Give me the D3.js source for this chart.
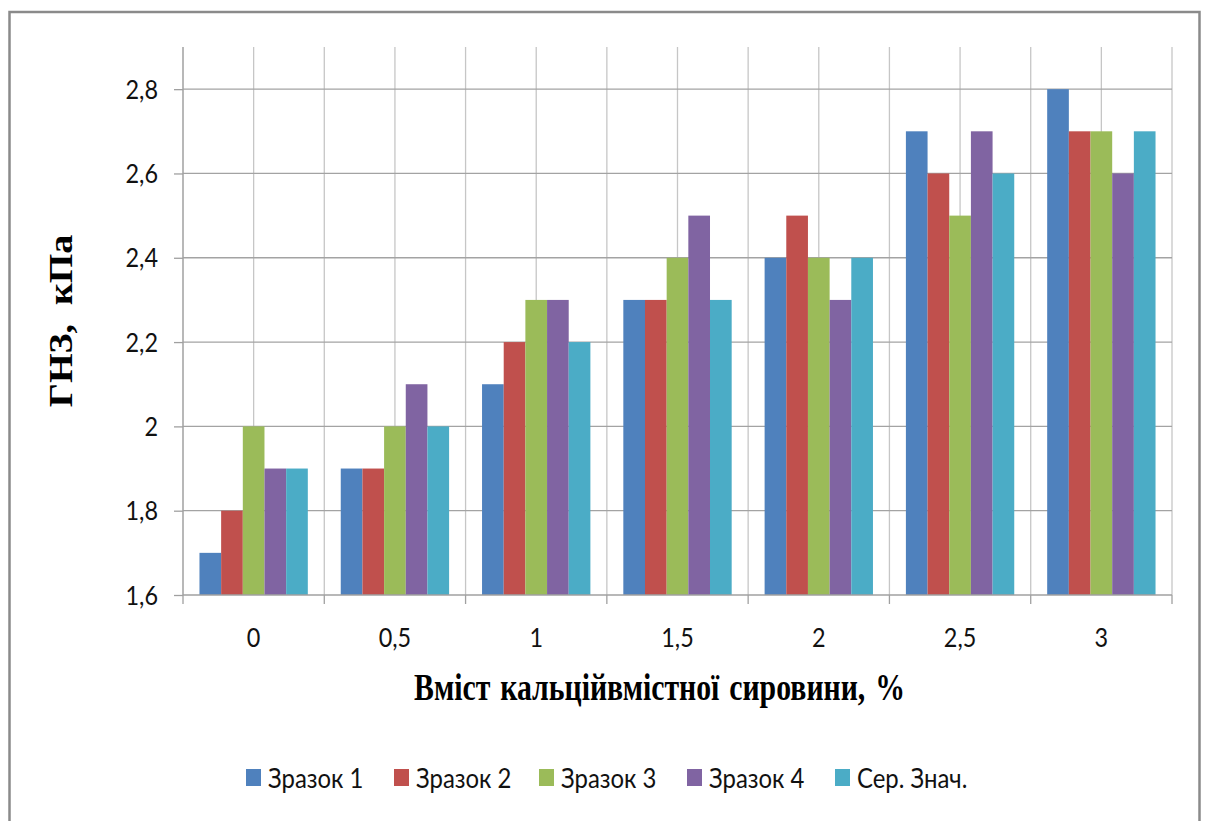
<!DOCTYPE html>
<html>
<head>
<meta charset="utf-8">
<script src="https://cdn.jsdelivr.net/npm/d3@7"></script>
<style>
  html, body { margin: 0; padding: 0; background: #fff; }
  svg { display: block; }
</style>
</head>
<body>
<svg id="chart" width="1205" height="821"></svg>
<script>
// Calcium-containing additive content, %
const categories = ["0", "0,5", "1", "1,5", "2", "2,5", "3"];
const seriesNames = ["Зразок 1", "Зразок 2", "Зразок 3", "Зразок 4", "Сер. Знач."];
const sample1 = [1.7, 1.9, 2.1, 2.3, 2.4, 2.7, 2.8];
const sample2 = [1.8, 1.9, 2.2, 2.3, 2.5, 2.6, 2.7];
const sample3 = [2.0, 2.0, 2.3, 2.4, 2.4, 2.5, 2.7];
const sample4 = [1.9, 2.1, 2.3, 2.5, 2.3, 2.7, 2.6];
const average = [1.9, 2.0, 2.2, 2.3, 2.4, 2.6, 2.7];
const yTicks = [1.6, 1.8, 2.0, 2.2, 2.4, 2.6, 2.8];
const colors = ["#4F81BD", "#C0504D", "#9BBB59", "#8064A2", "#4BACC6"];

const seriesValues = [sample1, sample2, sample3, sample4, average];
const rows = categories.map((c, i) => ({
  cat: c,
  vals: seriesNames.map((s, j) => ({ series: s, idx: j, value: seriesValues[j][i] }))
}));

const svg = d3.select("#chart");
const plot = { left: 183, right: 1172, top: 47, bottom: 595 };

const x0 = d3.scaleBand().domain(categories).range([plot.left, plot.right]).paddingInner(0).paddingOuter(0);
const x1 = d3.scaleBand().domain(seriesNames).range([0, x0.bandwidth()]).paddingInner(0).paddingOuter(0.76);
const y = d3.scaleLinear().domain([1.6, 2.9]).range([plot.bottom, plot.top]);

const sansFont = "Lato, 'Open Sans', sans-serif";
const serifFont = "'Liberation Serif', 'DejaVu Serif', serif";

// outer frame
svg.append("rect")
  .attr("x", 9.5).attr("y", 12).attr("width", 1190).attr("height", 830)
  .attr("fill", "none").attr("stroke", "#8a8a8a").attr("stroke-width", 2.5);

// vertical gridlines at every half category
const halfSteps = d3.range(1, categories.length * 2 + 1).map(k => plot.left + k * x0.bandwidth() / 2);
svg.append("g").selectAll("line").data(halfSteps).join("line")
  .attr("x1", d => d).attr("x2", d => d)
  .attr("y1", plot.top).attr("y2", plot.bottom)
  .attr("stroke", "#c6c6c6").attr("stroke-width", 1.3);

// horizontal gridlines
svg.append("g").selectAll("line").data(yTicks.slice(1)).join("line")
  .attr("x1", plot.left).attr("x2", plot.right)
  .attr("y1", d => y(d)).attr("y2", d => y(d))
  .attr("stroke", "#a3a3a3").attr("stroke-width", 1.3);

// bars
svg.append("g").selectAll("g").data(rows).join("g")
  .attr("transform", d => `translate(${x0(d.cat)},0)`)
  .selectAll("rect").data(d => d.vals).join("rect")
  .attr("x", d => x1(d.series))
  .attr("width", x1.bandwidth())
  .attr("y", d => y(d.value))
  .attr("height", d => y(1.6) - y(d.value))
  .attr("fill", d => colors[d.idx]);

// y axis
const yAxis = d3.axisLeft(y).tickValues(yTicks).tickSize(9).tickPadding(16)
  .tickFormat(d => d3.format(".1f")(d).replace(/\.0$/, "").replace(".", ","));
const gy = svg.append("g").attr("transform", `translate(${plot.left},0)`).call(yAxis);
gy.select(".domain").attr("stroke", "#a0a0a0").attr("stroke-width", 1.5)
  .attr("d", `M0,${plot.top}V${plot.bottom}`);
gy.selectAll(".tick line").attr("stroke", "#a0a0a0").attr("stroke-width", 1.3);
gy.selectAll(".tick text")
  .attr("font-family", sansFont).attr("font-size", 26).attr("fill", "#111")
  .attr("dy", "0.35em")
  .each(function () {
    const t = d3.select(this);
    const xx = +t.attr("x");
    t.attr("x", 0).attr("transform", `translate(${xx},0) scale(0.9,1)`);
  });

// x axis
const xAxis = d3.axisBottom(x0).tickSize(0).tickPadding(0);
const gx = svg.append("g").attr("transform", `translate(0,${plot.bottom})`).call(xAxis);
gx.select(".domain").attr("stroke", "#a0a0a0").attr("stroke-width", 1.5)
  .attr("d", `M${plot.left},0H${plot.right}`);
gx.selectAll(".tick text")
  .attr("font-family", sansFont).attr("font-size", 26).attr("fill", "#111")
  .attr("y", 0).attr("dy", 0)
  .attr("transform", "translate(0,52) scale(0.9,1)");
// boundary tick marks between categories
const bounds = d3.range(0, categories.length + 1).map(k => plot.left + k * x0.bandwidth());
gx.append("g").selectAll("line").data(bounds).join("line")
  .attr("x1", d => d).attr("x2", d => d).attr("y1", 0).attr("y2", 9)
  .attr("stroke", "#a0a0a0").attr("stroke-width", 1.3);

// axis titles
svg.append("text")
  .attr("transform", `translate(${(plot.left + plot.right) / 2 - 18},700) scale(0.805,1)`)
  .attr("text-anchor", "middle")
  .attr("font-family", serifFont).attr("font-weight", "bold").attr("font-size", 37)
  .attr("fill", "#000")
  .attr("word-spacing", 3)
  .text("Вміст кальційвмістної сировини, %");

svg.append("text")
  .attr("transform", "translate(72,321) rotate(-90) scale(1.15,1)")
  .attr("text-anchor", "middle")
  .attr("font-family", serifFont).attr("font-weight", "bold").attr("font-size", 33)
  .attr("fill", "#000")
  .attr("xml:space", "preserve")
  .text("ГНЗ,  кПа");

// legend
const legendX = [246, 394, 539, 687, 835];
const legend = svg.append("g").selectAll("g").data(seriesNames).join("g")
  .attr("transform", (d, i) => `translate(${legendX[i]},769)`);
legend.append("rect")
  .attr("width", 15).attr("height", 17)
  .attr("fill", (d, i) => colors[i]);
legend.append("text")
  .attr("transform", "translate(22,19) scale(0.92,1)")
  .attr("font-family", sansFont).attr("font-size", 26).attr("fill", "#111")
  .text(d => d);
</script>
</body>
</html>
